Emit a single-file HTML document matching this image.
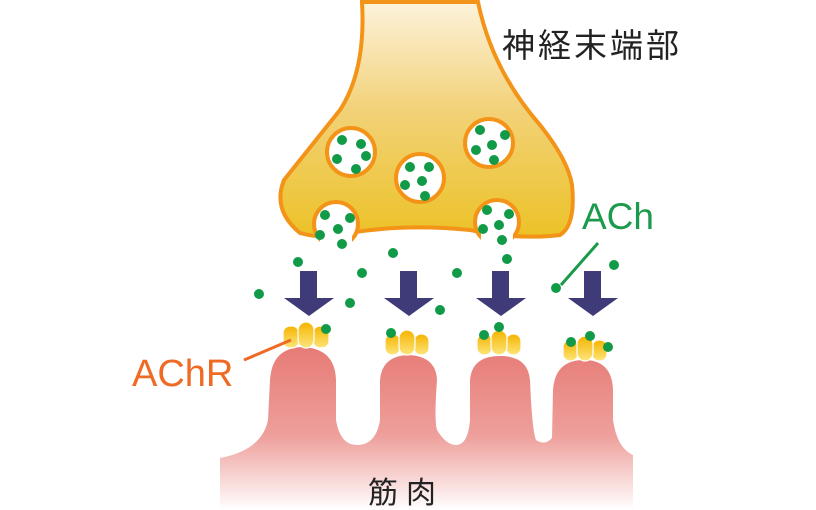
<!DOCTYPE html>
<html><head><meta charset="utf-8"><style>
html,body{margin:0;padding:0;background:#fff;}
svg{display:block;}
text{font-family:"Liberation Sans","Noto Sans CJK JP",sans-serif;}
</style></head><body>
<svg width="816" height="510" viewBox="0 0 816 510" xmlns="http://www.w3.org/2000/svg">
<defs>
<linearGradient id="ng" x1="0" y1="0" x2="0" y2="1">
<stop offset="0" stop-color="#fdf3dc"/><stop offset="0.45" stop-color="#f2d27a"/><stop offset="1" stop-color="#ecc227"/>
</linearGradient>
<linearGradient id="mg" x1="0" y1="0" x2="0" y2="1">
<stop offset="0" stop-color="#e77b76"/><stop offset="0.55" stop-color="#eea09c"/><stop offset="1" stop-color="#ffffff"/>
</linearGradient>
<linearGradient id="rg" x1="0" y1="0" x2="0" y2="1">
<stop offset="0" stop-color="#f5b400"/><stop offset="1" stop-color="#fde57a"/>
</linearGradient>
</defs>
<path fill="url(#mg)" d="M220 458 Q262 450 268 420 L270 380 Q272 348 302 347 Q335 348 336 380 L336 420 Q340 445 357 445 Q376 445 380 420 L380 380 Q382 356 408 355 Q436 356 437 380 Q434 420 437 430 Q446 445 456 445 Q468 445 470 420 L470 380 Q472 356 500 356 Q528 356 530 380 Q532 430 536 440 Q545 446 552 438 L553 390 Q555 360 584 360 Q612 360 613 390 L613 420 Q617 448 633 455 L633 510 L220 510 Z"/>
<path fill="url(#ng)" stroke="#f39419" stroke-width="4" d="M362 2 Q366 70 340 110 Q300 160 284 180 Q272 210 300 233 Q318 238 335 236 L355 232 Q410 224 470 230 Q520 240 560 235 Q576 225 572 185 Q568 160 540 125 Q492 70 478 2 Z"/>
<g fill="#fff" stroke="#f39419" stroke-width="4">
<circle cx="351" cy="152" r="24"/><circle cx="420" cy="178" r="24"/><circle cx="489" cy="143" r="24"/>
<circle cx="336" cy="224" r="22"/><circle cx="497" cy="222" r="22"/>
</g>
<rect x="320" y="236" width="32" height="14" fill="#fff"/>
<rect x="481" y="234" width="32" height="14" fill="#fff"/>
<g fill="#3f3a78">
<path d="M300 271 h17 v27 h17 l-25 18 l-25 -18 h16 z"/>
<path d="M400 271 h17 v27 h17 l-25 18 l-25 -18 h16 z"/>
<path d="M492 271 h17 v27 h17 l-25 18 l-25 -18 h16 z"/>
<path d="M584 271 h17 v27 h17 l-25 18 l-25 -18 h16 z"/>
</g>
<g fill="url(#rg)" stroke="#fff" stroke-width="1.2">
<rect x="283" y="326" width="16" height="22" rx="7"/><rect x="313" y="326" width="16" height="22" rx="7"/><rect x="298" y="322" width="16" height="26" rx="8"/>
<rect x="385" y="334" width="15" height="21" rx="7"/><rect x="414" y="334" width="15" height="21" rx="7"/><rect x="399" y="330" width="16" height="25" rx="8"/>
<rect x="477" y="334" width="15" height="21" rx="7"/><rect x="506" y="334" width="15" height="21" rx="7"/><rect x="491" y="330" width="16" height="25" rx="8"/>
<rect x="563" y="340" width="15" height="21" rx="7"/><rect x="592" y="340" width="15" height="21" rx="7"/><rect x="577" y="336" width="16" height="25" rx="8"/>
</g>
<line x1="598" y1="243" x2="561" y2="285" stroke="#1a9a4a" stroke-width="3"/>
<line x1="244" y1="360" x2="291" y2="340" stroke="#ee6a25" stroke-width="3"/>
<g fill="#119a47">
<circle cx="342" cy="140" r="5"/><circle cx="361" cy="144" r="5"/><circle cx="337" cy="159" r="5"/><circle cx="366" cy="156" r="5"/><circle cx="356" cy="169" r="5"/>
<circle cx="410" cy="167" r="5"/><circle cx="429" cy="167" r="5"/><circle cx="422" cy="181" r="5"/><circle cx="405" cy="185" r="5"/><circle cx="425" cy="196" r="5"/>
<circle cx="480" cy="130" r="5"/><circle cx="505" cy="135" r="5"/><circle cx="492" cy="145" r="5"/><circle cx="476" cy="150" r="5"/><circle cx="494" cy="160" r="5"/>
<circle cx="325" cy="215" r="5"/><circle cx="350" cy="218" r="5"/><circle cx="338" cy="229" r="5"/><circle cx="320" cy="235" r="5"/><circle cx="342" cy="244" r="5"/>
<circle cx="487" cy="210" r="5"/><circle cx="509" cy="214" r="5"/><circle cx="499" cy="225" r="5"/><circle cx="483" cy="229" r="5"/><circle cx="502" cy="240" r="5"/>
<circle cx="298" cy="262" r="5"/><circle cx="259" cy="294" r="5"/><circle cx="362" cy="273" r="5"/><circle cx="350" cy="303" r="5"/><circle cx="393" cy="253" r="5"/>
<circle cx="457" cy="273" r="5"/><circle cx="440" cy="310" r="5"/><circle cx="507" cy="259" r="5"/><circle cx="556" cy="288" r="5"/><circle cx="614" cy="265" r="5"/>
<circle cx="326" cy="329" r="5"/><circle cx="391" cy="333" r="5"/><circle cx="484" cy="335" r="5"/><circle cx="499" cy="327" r="5"/>
<circle cx="571" cy="342" r="5"/><circle cx="590" cy="336" r="5"/><circle cx="608" cy="347" r="5"/>
</g>
<text x="502" y="57" font-size="33" fill="#222" letter-spacing="3">神経末端部</text>
<text x="582" y="229" font-size="37" fill="#1a9a4a">ACh</text>
<text x="132" y="386" font-size="38" fill="#ee6a25">AChR</text>
<text x="368" y="503" font-size="30" fill="#222" letter-spacing="8">筋肉</text>
</svg>
</body></html>
